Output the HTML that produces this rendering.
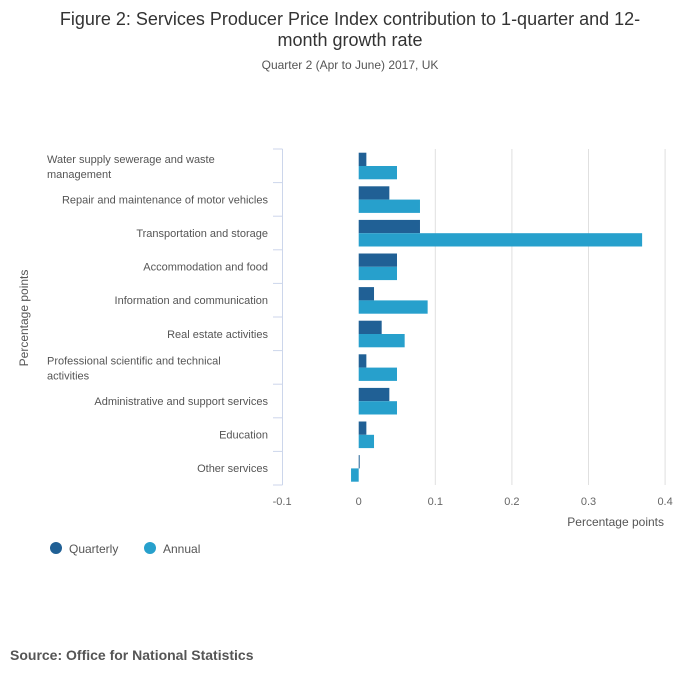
<!DOCTYPE html>
<html><head><meta charset="utf-8"><style>
body{margin:0;background:#fff;width:700px;height:682px;overflow:hidden;font-family:"Liberation Sans",sans-serif}
</style></head><body>
<svg id="chart" width="700" height="682" font-family="Liberation Sans, sans-serif">
<text x="350" y="25" text-anchor="middle" font-size="18" fill="#333">Figure 2: Services Producer Price Index contribution to 1-quarter and 12-</text>
<text x="350" y="46" text-anchor="middle" font-size="18" fill="#333">month growth rate</text>
<text x="350" y="69" text-anchor="middle" font-size="12" fill="#555">Quarter 2 (Apr to June) 2017, UK</text>
<text transform="translate(28,318) rotate(-90)" text-anchor="middle" font-size="12" fill="#555">Percentage points</text>
<text x="664" y="526" text-anchor="end" font-size="12" fill="#555">Percentage points</text>
<g id="plot"></g>
<circle cx="56" cy="548" r="6" fill="#206095"/>
<text x="69" y="553" font-size="12" fill="#555">Quarterly</text>
<circle cx="150" cy="548" r="6" fill="#27a0cc"/>
<text x="163" y="553" font-size="12" fill="#555">Annual</text>
<text x="10" y="660" font-size="14" font-weight="bold" fill="#555">Source: Office for National Statistics</text>
</svg>
<script>
const categories=[["Water supply sewerage and waste","management"],["Repair and maintenance of motor vehicles"],["Transportation and storage"],["Accommodation and food"],["Information and communication"],["Real estate activities"],["Professional scientific and technical","activities"],["Administrative and support services"],["Education"],["Other services"]];
const quarterly=[0.01,0.04,0.08,0.05,0.02,0.03,0.01,0.04,0.01,0.001];
const annual=[0.05,0.08,0.37,0.05,0.09,0.06,0.05,0.05,0.02,-0.01];
const ticks=[-0.1,0,0.1,0.2,0.3,0.4];
const tickLabels=["-0.1","0","0.1","0.2","0.3","0.4"];
const NS="http://www.w3.org/2000/svg";
const g=document.getElementById('plot');
const plotTop=149,plotBottom=485,x0=358.7,scale=766;
const band=(plotBottom-plotTop)/categories.length;
const xs=v=>x0+v*scale;
function el(t,a){const e=document.createElementNS(NS,t);for(const k in a)e.setAttribute(k,a[k]);g.appendChild(e);return e;}
ticks.forEach((t,i)=>{
  if(t>0){const l=el('line',{x1:xs(t),x2:xs(t),y1:plotTop,y2:plotBottom,stroke:'#e0e0e0'});
  
  }
  const tx=el('text',{x:xs(t),y:505,'text-anchor':'middle','font-size':11,fill:'#666'});tx.textContent=tickLabels[i];
  
  
});
const ax=el('line',{x1:282.5,x2:282.5,y1:plotTop,y2:plotBottom,stroke:'#ccd6eb'});


for(let i=0;i<=categories.length;i++){const y=plotTop+i*band;
  const tk=el('line',{x1:273,x2:282.5,y1:y,y2:y,stroke:'#ccd6eb'});
  
  }
categories.forEach((c,i)=>{
  const yc=plotTop+(i+0.5)*band;
  const t=el('text',{'font-size':11,fill:'#555'});
  
  
  if(c.length===1){t.setAttribute('x',268);t.setAttribute('y',yc+4);t.setAttribute('text-anchor','end');t.textContent=c[0];}
  else{c.forEach((s,j)=>{const ts=document.createElementNS(NS,'tspan');ts.setAttribute('x',47);ts.setAttribute('y',yc-3+j*15);ts.textContent=s;t.appendChild(ts);});}
  const bh=13.3,by=plotTop+i*band+3.7;
  [[quarterly[i],by,'#206095','bar-quarterly'],[annual[i],by+bh,'#27a0cc','bar-annual']].forEach(([v,y,col,n])=>{
    const x1=Math.min(xs(0),xs(v)),w=Math.max(Math.abs(xs(v)-xs(0)),1);
    const r=el('rect',{x:x1,y:y,width:w,height:bh,fill:col});
    
    
  });
});
</script>
</body></html>
